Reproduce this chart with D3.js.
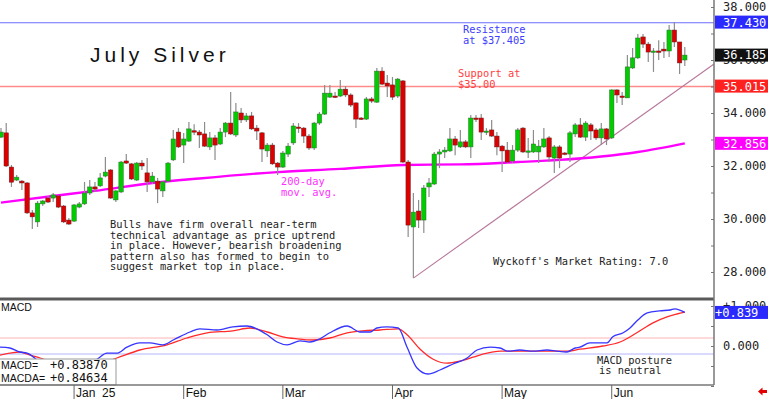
<!DOCTYPE html>
<html>
<head>
<meta charset="utf-8">
<script src="https://cdn.jsdelivr.net/npm/d3@7"></script>
<style>
  body { margin: 0; background: #fff; }
  svg { display: block; }
</style>
</head>
<body>
<div id="svgcontainer"></div>
<script>
var width = 768;
var height = 399;

// daily OHLC, one per trading day (mid Dec 2024 .. Jun 20 2025)
var opens = [33.09,33.25,31.96,31.47,31.43,31.36,30.23,29.89,30.57,30.79,30.79,30.87,30.49,29.96,29.92,30.45,30.57,30.98,31.21,31.25,
  31.62,31.85,30.72,31.02,32.19,32.08,31.47,32.11,31.74,31.40,31.43,31.06,31.43,32.23,33.28,32.79,32.94,33.33,33.28,33.21,
  32.72,33.06,32.83,33.28,33.62,33.17,34.00,33.74,33.89,33.43,33.25,32.57,32.79,32.11,31.96,32.45,32.87,33.47,33.43,33.13,
  32.68,33.62,33.96,34.60,34.64,34.64,34.90,34.68,34.38,33.81,33.77,34.53,34.41,35.58,35.13,35.06,34.64,35.21,32.15,29.70,
  30.30,29.96,31.21,31.32,32.45,32.53,32.57,33.02,32.72,32.91,32.72,33.81,33.81,33.28,33.36,33.13,32.75,32.60,32.19,32.60,
  33.43,32.53,32.53,32.53,32.72,33.06,32.30,32.72,32.49,32.45,33.21,33.55,33.09,33.55,33.36,33.06,33.40,33.06,34.87,34.64,
  34.57,35.70,36.08,36.87,36.60,36.30,36.34,36.41,36.34,37.13,36.68,36.00];
var highs = [33.43,33.62,32.04,31.66,31.47,31.40,30.34,30.68,30.72,30.87,30.98,30.91,30.53,30.04,30.57,30.64,31.40,31.47,31.40,31.74,
  32.34,31.89,31.09,32.19,32.45,32.11,32.15,32.23,32.30,31.77,31.55,31.43,32.15,33.36,33.43,33.25,33.66,33.58,33.36,33.66,
  33.28,33.17,33.43,33.66,34.79,34.38,34.19,34.00,34.04,33.55,33.28,32.87,32.87,32.15,32.57,32.87,33.62,33.62,33.47,33.21,
  33.66,34.04,35.06,35.06,34.79,35.25,35.02,34.75,34.41,33.85,34.60,34.60,35.70,35.73,35.43,35.36,35.32,35.25,32.23,30.98,
  30.72,31.28,31.55,32.53,32.64,32.72,33.43,33.13,33.36,32.98,33.92,33.92,33.96,33.43,33.74,33.28,32.79,32.91,32.79,33.43,
  33.47,33.06,33.36,32.98,33.43,33.13,32.79,32.79,32.53,33.32,33.62,33.81,33.70,33.62,33.43,33.62,33.43,34.90,34.90,34.79,
  36.19,36.45,36.98,36.98,36.68,36.45,36.75,36.68,37.32,37.43,36.68,36.49];
var lows = [33.06,31.96,31.21,31.43,31.09,30.19,29.62,29.70,30.49,30.60,30.64,30.41,29.85,29.77,29.89,30.41,30.53,30.91,31.02,31.21,
  31.58,30.76,30.64,30.98,32.08,31.47,31.43,31.85,31.02,31.32,30.60,30.83,31.40,32.19,32.68,32.11,32.91,33.17,32.68,32.72,
  32.60,32.23,32.79,33.09,33.17,33.09,33.62,33.66,33.36,32.98,32.15,32.34,32.04,31.66,31.92,32.34,32.79,33.25,32.87,32.60,
  32.60,33.55,33.92,34.57,34.57,34.60,34.60,34.23,33.43,33.74,33.74,34.38,34.38,35.06,34.60,34.49,34.57,32.11,29.32,27.77,
  29.66,29.47,30.83,31.28,31.92,32.30,32.53,32.41,32.68,32.68,32.30,33.66,32.98,33.17,33.09,32.41,31.77,32.11,32.11,32.53,
  32.49,32.30,32.49,32.11,32.68,32.15,31.74,31.92,32.41,32.15,33.09,33.06,32.94,32.98,32.98,32.79,32.79,33.02,34.38,34.30,
  34.57,35.66,36.04,36.45,35.92,35.55,36.00,36.08,36.11,36.49,35.47,35.77];
var closes = [33.28,32.00,31.39,31.58,31.36,30.23,30.08,30.60,30.68,30.64,30.91,30.45,29.89,29.81,30.53,30.57,30.98,31.21,31.13,31.55,
  31.77,30.79,31.06,32.15,32.11,31.51,32.11,32.00,31.40,31.62,31.13,31.40,32.11,33.02,32.72,33.02,33.40,33.30,33.17,32.75,
  33.06,32.79,33.28,33.62,33.21,34.04,33.74,33.89,33.40,33.32,32.64,32.79,32.08,31.96,32.49,32.75,33.51,33.43,33.13,32.68,
  33.62,33.96,34.75,34.75,34.60,34.90,34.68,34.30,33.77,33.77,34.53,34.45,35.58,35.09,35.02,34.60,35.28,32.15,29.77,30.26,
  29.96,31.17,31.36,32.45,32.53,32.60,33.02,32.79,32.91,32.72,33.81,33.77,33.28,33.32,33.13,32.72,32.57,32.15,32.60,33.36,
  32.53,32.57,32.83,32.75,33.02,32.34,32.72,32.30,32.45,33.25,33.55,33.09,33.62,33.32,33.06,33.40,33.02,34.87,34.68,34.60,
  35.74,36.08,36.83,36.60,36.30,36.34,36.30,36.34,37.13,36.68,35.89,36.185];

// 200-day moving average, read at these candle positions
var maIdx = [0, 10, 18, 29, 38, 53, 65, 77, 88, 99, 107, 115, 122, 131];
var maVals = [30.62, 30.87, 31.06, 31.36, 31.53, 31.77, 31.89, 32.04, 32.06, 32.15, 32.23, 32.36, 32.53, 32.856];

// MACD (blue) and its average (red)
var macdIdx = [-0.2,1.7,3.6,5,8.4,12.3,16.1,18.4,20.3,22.2,24.1,26.6,28.5,31,33,36.2,38.1,41.4,44.4,47.1,49,51,52.9,54.8,57.3,59.2,
  61.1,63,66.3,68.8,70.7,72,73.9,76.1,77.8,79.7,81.8,84.1,86.6,89.3,91.2,93.7,95.6,97.1,99.4,101.9,104.6,106.5,108.4,110,110.9,
  112.8,116.1,117.2,119.2,120.5,122,123.8,126.2,128.2,129.1,131];
var macdVals = [-0.03,-0.05,-0.15,-0.18,-0.5,-0.65,-0.5,-0.33,-0.18,-0.18,-0.03,0.08,0.08,0.03,0.15,0.35,0.43,0.4,0.48,0.5,0.43,0.28,
  0.1,0.03,0.13,0.1,0.18,0.33,0.5,0.35,0.35,0.45,0.48,0.45,-0.03,-0.55,-0.7,-0.6,-0.45,-0.3,-0.1,-0.03,-0.05,-0.13,-0.1,-0.13,-0.1,
  -0.13,-0.15,-0.05,-0.03,0.08,0.08,0.23,0.33,0.45,0.65,0.83,0.88,0.9,0.93,0.839];
var signalIdx = [-0.2,1.7,3.6,5.6,7.5,11.3,16.1,19.9,22.2,26.6,31.8,35.6,39.5,44.4,47.7,51,54,56.7,59.8,63,66.3,69.3,72.6,76.1,77.8,
  80.3,82.8,85.4,87.9,90.4,93.1,95.6,99.4,104.6,108.4,110.9,115.3,118.6,121.8,124.9,127.6,129.5,131];
var signalVals = [-0.23,-0.18,-0.15,-0.23,-0.3,-0.45,-0.48,-0.4,-0.3,-0.1,0.03,0.2,0.33,0.38,0.45,0.35,0.23,0.18,0.15,0.2,0.33,0.38,
  0.4,0.43,0.28,-0.08,-0.33,-0.43,-0.38,-0.28,-0.18,-0.13,-0.13,-0.13,-0.13,-0.08,0,0.1,0.33,0.58,0.73,0.8,0.846];

var monthIdx = [14, 35, 54, 75, 96, 117];
var monthLabels = ["Jan \u00a025", "Feb", "Mar", "Apr", "May", "Jun"];
var priceTicks = [28, 29, 30, 31, 32, 33, 34, 35, 36, 37, 38];
var macdTicks = [-1, -0.5, 0, 0.5, 1];
var resistance = 37.405;
var support = 35.00;
var trendIdx = [79, 136.6];
var trendVals = [27.77, 35.85];
var priceTags = [37.430, 36.185, 35.015, 32.856];
var macdTag = 0.839;

var mono = "DejaVu Sans Mono";
var sans = "Liberation Sans, Arial, sans-serif";

var svg = d3.select("#svgcontainer")
  .append("svg")
  .attr("width", width)
  .attr("height", height);

var x = d3.scaleLinear().domain([0, 131]).range([1, 684.8]);
var y = d3.scaleLinear().domain([28, 38]).range([272, 7]);
var my = d3.scaleLinear().domain([0, 1]).range([346, 306]);

svg.append("defs").append("clipPath").attr("id", "pclip")
  .append("rect").attr("x", 0).attr("y", 0).attr("width", 714).attr("height", 297);
svg.select("defs").append("clipPath").attr("id", "mclip")
  .append("rect").attr("x", 0).attr("y", 301).attr("width", 714).attr("height", 84);

// ---- price panel
var price = svg.append("g").attr("clip-path", "url(#pclip)");

price.append("line")
  .attr("x1", 0).attr("x2", 714)
  .attr("y1", y(resistance)).attr("y2", y(resistance))
  .attr("stroke", "#6e6eff").attr("stroke-width", 1.2);

price.append("line")
  .attr("x1", 0).attr("x2", 714)
  .attr("y1", y(support)).attr("y2", y(support))
  .attr("stroke", "#ff8a8a").attr("stroke-width", 1.4);

price.append("line")
  .attr("x1", x(trendIdx[0])).attr("y1", y(trendVals[0]))
  .attr("x2", x(trendIdx[1])).attr("y2", y(trendVals[1]))
  .attr("stroke", "#b8789c").attr("stroke-width", 1.1);

var ma = d3.line()
  .x(function(d, i) { return x(maIdx[i]); })
  .y(function(d) { return y(d); })
  .curve(d3.curveMonotoneX);

price.append("path")
  .attr("d", ma(maVals))
  .attr("fill", "none")
  .attr("stroke", "#ff00ff")
  .attr("stroke-width", 2.4);

var idx = d3.range(opens.length);

price.selectAll(".wick").data(idx).enter()
  .append("line")
  .attr("class", "wick")
  .attr("x1", function(i) { return x(i); })
  .attr("x2", function(i) { return x(i); })
  .attr("y1", function(i) { return y(highs[i]); })
  .attr("y2", function(i) { return y(lows[i]); })
  .attr("stroke", "#8c8c8c")
  .attr("stroke-width", 1.2);

price.selectAll(".body").data(idx).enter()
  .append("rect")
  .attr("class", "body")
  .attr("x", function(i) { return x(i) - 2.2; })
  .attr("width", 4.4)
  .attr("y", function(i) { return y(Math.max(opens[i], closes[i])); })
  .attr("height", function(i) { return Math.max(1.4, Math.abs(y(opens[i]) - y(closes[i]))); })
  .attr("fill", function(i) { return closes[i] >= opens[i] ? "#00cc00" : "#dd0000"; })
  .attr("stroke", function(i) { return closes[i] >= opens[i] ? "#2f6f2f" : "#6a1a1a"; })
  .attr("stroke-width", 0.5);

// ---- annotations
function block(lines, x0, y0, color) {
  var t = svg.append("text")
    .attr("font-family", mono)
    .attr("font-size", "10.4px")
    .attr("fill", color);
  lines.forEach(function(s, k) {
    t.append("tspan").attr("x", x0 + (s.x || 0)).attr("y", y0 + k * 10.5).text(s.t || s);
  });
}

svg.append("text")
  .attr("x", 90).attr("y", 62)
  .attr("font-family", sans)
  .attr("font-size", "21px")
  .attr("letter-spacing", "4px")
  .attr("fill", "#111")
  .text("July Silver");

block(["Resistance", "at $37.405"], 463, 33, "#3c3cff");
block(["Support at", "$35.00"], 458, 77, "#ff4040");
block(["200-day", "mov. avg."], 281, 185, "#ff30ff");
block(["Bulls have firm overall near-term",
       "technical advantage as price uptrend",
       "in place. However, bearish broadening",
       "pattern also has formed to begin to",
       "suggest market top in place."], 110, 228, "#222");
block(["Wyckoff's Market Rating: 7.0"], 493, 264.5, "#222");

// ---- MACD panel
var macd = svg.append("g").attr("clip-path", "url(#mclip)");

macd.append("line")
  .attr("x1", 0).attr("x2", 714)
  .attr("y1", my(0.2)).attr("y2", my(0.2))
  .attr("stroke", "#ffb4b4").attr("stroke-width", 1);
macd.append("line")
  .attr("x1", 0).attr("x2", 714)
  .attr("y1", my(-0.2)).attr("y2", my(-0.2))
  .attr("stroke", "#b4b4ff").attr("stroke-width", 1);

var mline = d3.line()
  .x(function(d) { return x(d[0]); })
  .y(function(d) { return my(d[1]); })
  .curve(d3.curveMonotoneX);

macd.append("path")
  .attr("d", mline(d3.zip(signalIdx, signalVals)))
  .attr("fill", "none").attr("stroke", "#ff2a2a").attr("stroke-width", 1.3);
macd.append("path")
  .attr("d", mline(d3.zip(macdIdx, macdVals)))
  .attr("fill", "none").attr("stroke", "#3535ff").attr("stroke-width", 1.3);

svg.append("text")
  .attr("x", 1).attr("y", 311)
  .attr("font-family", sans).attr("font-size", "10.5px").attr("fill", "#111")
  .text("MACD");

block(["MACD posture", {t: "is neutral", x: 2}], 597, 363.5, "#222");

svg.append("rect")
  .attr("x", -1).attr("y", 359).attr("width", 117).attr("height", 26)
  .attr("fill", "#fff").attr("stroke", "#999");

var vals = svg.append("g");
[["MACD=", 368.5], ["MACDA=", 381.7]].forEach(function(r) {
  vals.append("text").attr("x", 1).attr("y", r[1])
    .attr("font-family", sans).attr("font-size", "10.5px").attr("fill", "#111")
    .text(r[0]);
});
vals.append("text").attr("x", 50).attr("y", 368.5)
  .attr("font-family", mono).attr("font-size", "12px").attr("fill", "#111")
  .text("+0.83870");
vals.append("text").attr("x", 50).attr("y", 381.7)
  .attr("font-family", mono).attr("font-size", "12px").attr("fill", "#111")
  .text("+0.84634");

// ---- frame lines
svg.append("line").attr("x1", 0).attr("x2", 714).attr("y1", 299).attr("y2", 299)
  .attr("stroke", "#5a5a5a").attr("stroke-width", 3);
svg.append("line").attr("x1", 0).attr("x2", 714).attr("y1", 385).attr("y2", 385)
  .attr("stroke", "#777").attr("stroke-width", 1.5);
svg.append("line").attr("x1", 714).attr("x2", 714).attr("y1", 0).attr("y2", 385)
  .attr("stroke", "#777").attr("stroke-width", 1.5);

// ---- right axes
var pAxis = d3.axisRight(y)
  .tickValues(priceTicks)
  .tickSizeInner(-3).tickSizeOuter(0).tickPadding(9)
  .tickFormat(function(d) { return d % 2 === 0 ? d3.format(".3f")(d) : ""; });

var mAxis = d3.axisRight(my)
  .tickValues(macdTicks)
  .tickSizeInner(-3).tickSizeOuter(0).tickPadding(9)
  .tickFormat(function(d) { return d === 1 ? "+1.000" : d === 0 ? "0.000" : ""; });

[pAxis, mAxis].forEach(function(a) {
  var g = svg.append("g").attr("transform", "translate(714,0)").call(a);
  g.select(".domain").remove();
  g.selectAll("line").attr("stroke", "#777");
  g.selectAll("text")
    .attr("font-family", mono).attr("font-size", "12px").attr("fill", "#222");
});

var tagColors = ["#2a2aff", "#111", "#ff2020", "#ff00ff"];
priceTags.forEach(function(v, k) {
  svg.append("rect")
    .attr("x", 715).attr("y", y(v) - 6.5).attr("width", 53).attr("height", 13)
    .attr("fill", tagColors[k]);
  svg.append("text")
    .attr("x", 723).attr("y", y(v) + 4.4)
    .attr("font-family", mono).attr("font-size", "12px").attr("fill", "#fff")
    .text(d3.format(".3f")(v));
});

svg.append("rect")
  .attr("x", 715).attr("y", my(macdTag) - 6.5).attr("width", 53).attr("height", 13)
  .attr("fill", "#2a2aff");
svg.append("text")
  .attr("x", 715).attr("y", my(macdTag) + 4.4)
  .attr("font-family", mono).attr("font-size", "12px").attr("fill", "#fff")
  .text("+" + d3.format(".3f")(macdTag));

// ---- month axis
var months = svg.append("g");
months.selectAll("line").data(monthIdx).enter()
  .append("line")
  .attr("x1", function(d) { return x(d); })
  .attr("x2", function(d) { return x(d); })
  .attr("y1", 385).attr("y2", 399)
  .attr("stroke", "#666");
months.selectAll("text").data(monthIdx).enter()
  .append("text")
  .attr("x", function(d) { return x(d) + 2; })
  .attr("y", 397)
  .attr("font-family", sans).attr("font-size", "12px").attr("fill", "#111")
  .text(function(d, i) { return monthLabels[i]; });

// little red arrow, bottom right
svg.append("path")
  .attr("d", "M758,391.5 L762.5,387.5 L762.5,390 L767,390 L767,393 L762.5,393 L762.5,395.5 Z")
  .attr("fill", "#e00000");
</script>
</body>
</html>
